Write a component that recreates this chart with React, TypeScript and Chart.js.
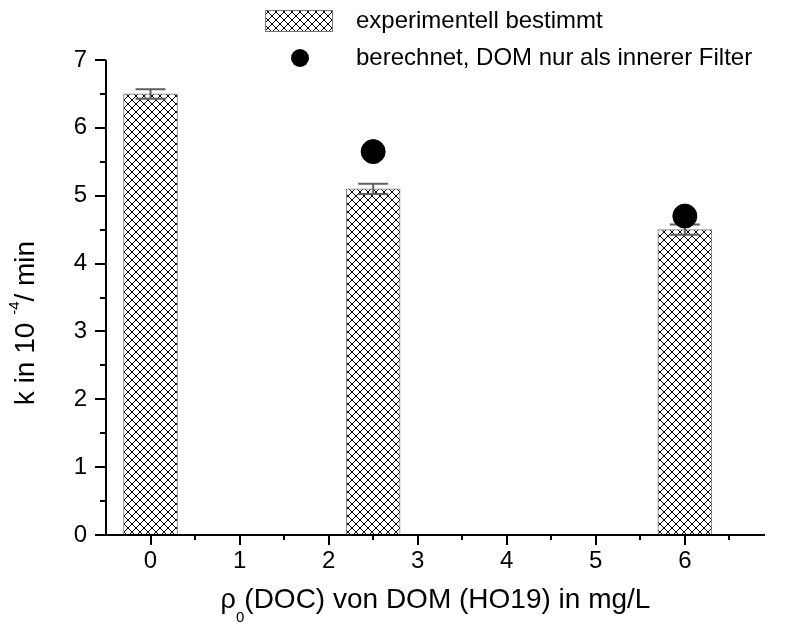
import React, { useEffect, useRef } from "react";
import { Chart, registerables } from "chart.js";

Chart.register(...registerables);

// Measured rate constants k (10^-4 / min) versus DOC concentration of DOM (mg/L)
const docConcentrations = [0, 2.5, 6];
const measuredK = [6.5, 5.1, 4.5];
const measuredKError = [0.07, 0.075, 0.075];

// Rate constants calculated assuming DOM acts only as an inner filter
const calculatedDoc = [2.5, 6];
const calculatedK = [5.65, 4.7];

// Axis ticks
const xTicks = [0, 1, 2, 3, 4, 5, 6];
const xMinorTicks = [0.5, 1.5, 2.5, 3.5, 4.5, 5.5, 6.5];
const yTicks = [0, 1, 2, 3, 4, 5, 6, 7];
const yMinorTicks = [0.5, 1.5, 2.5, 3.5, 4.5, 5.5, 6.5];

const seriesLabels = ["experimentell bestimmt", "berechnet, DOM nur als innerer Filter"];

const FONT = "Arial, 'Liberation Sans', sans-serif";

function makeHatch(ctx: CanvasRenderingContext2D): CanvasPattern | string {
  const tile = document.createElement("canvas");
  const n = 8;
  tile.width = n;
  tile.height = n;
  const g = tile.getContext("2d");
  if (!g) return "#fff";
  g.fillStyle = "#fff";
  g.fillRect(0, 0, n, n);
  g.fillStyle = "#000";
  for (let i = 0; i < n; i++) {
    g.fillRect(i, i, 1, 1);
    g.fillRect(n - 1 - i, i, 1, 1);
  }
  return ctx.createPattern(tile, "repeat") || "#fff";
}

type Part = { t: string; f: string; dy: number };

function drawParts(ctx: CanvasRenderingContext2D, parts: Part[], startX: number, baseY: number) {
  let x = startX;
  parts.forEach((p) => {
    ctx.font = p.f;
    ctx.fillText(p.t, x, baseY + p.dy);
    x += ctx.measureText(p.t).width;
  });
}

function partsWidth(ctx: CanvasRenderingContext2D, parts: Part[]) {
  let w = 0;
  parts.forEach((p) => {
    ctx.font = p.f;
    w += ctx.measureText(p.t).width;
  });
  return w;
}

export default function App() {
  const canvasRef = useRef<HTMLCanvasElement | null>(null);

  useEffect(() => {
    const canvas = canvasRef.current;
    if (!canvas) return;
    const ctx0 = canvas.getContext("2d");
    if (!ctx0) return;
    const hatch = makeHatch(ctx0);

    // Error bars drawn right after the bar dataset, below the calculated points
    const errorBars = {
      id: "errorBars",
      afterDatasetDraw(chart: any, args: any) {
        if (args.index !== 0) return;
        const { ctx } = chart;
        const xs = chart.scales.x;
        const ys = chart.scales.y;
        ctx.save();
        ctx.strokeStyle = "#5f5f5f";
        ctx.lineWidth = 2;
        docConcentrations.forEach((d, i) => {
          const x = xs.getPixelForValue(d);
          const yHi = ys.getPixelForValue(measuredK[i] + measuredKError[i]);
          const yLo = ys.getPixelForValue(measuredK[i] - measuredKError[i]);
          const cap = 15;
          ctx.beginPath();
          ctx.moveTo(x, yHi);
          ctx.lineTo(x, yLo);
          ctx.moveTo(x - cap, yHi);
          ctx.lineTo(x + cap, yHi);
          ctx.moveTo(x - cap, yLo);
          ctx.lineTo(x + cap, yLo);
          ctx.stroke();
        });
        ctx.restore();
      },
    };

    // Axis lines, major/minor tick marks, axis titles and legend
    const frame = {
      id: "frame",
      afterDraw(chart: any) {
        const { ctx, chartArea } = chart;
        const xs = chart.scales.x;
        const ys = chart.scales.y;
        const { left, right, top, bottom } = chartArea;
        ctx.save();
        ctx.strokeStyle = "#000";
        ctx.lineWidth = 2;
        ctx.lineCap = "butt";
        ctx.beginPath();
        ctx.moveTo(left, top);
        ctx.lineTo(left, bottom + 1);
        ctx.moveTo(left - 1, bottom);
        ctx.lineTo(right, bottom);
        yTicks.forEach((v) => {
          const y = Math.round(ys.getPixelForValue(v));
          ctx.moveTo(left - 11, y);
          ctx.lineTo(left, y);
        });
        yMinorTicks.forEach((v) => {
          const y = Math.round(ys.getPixelForValue(v));
          ctx.moveTo(left - 6, y);
          ctx.lineTo(left, y);
        });
        xTicks.forEach((v) => {
          const x = Math.round(xs.getPixelForValue(v));
          ctx.moveTo(x, bottom);
          ctx.lineTo(x, bottom + 10);
        });
        xMinorTicks.forEach((v) => {
          const x = Math.round(xs.getPixelForValue(v));
          ctx.moveTo(x, bottom);
          ctx.lineTo(x, bottom + 5);
        });
        ctx.stroke();

        ctx.fillStyle = "#000";
        ctx.textBaseline = "alphabetic";
        ctx.textAlign = "left";

        // x title: rho with subscript 0
        const xParts: Part[] = [
          { t: "\u03c1", f: `27px ${FONT}`, dy: 0 },
          { t: "0", f: `15px ${FONT}`, dy: 14 },
          { t: "(DOC) von DOM (HO19) in mg/L", f: `28px ${FONT}`, dy: 0 },
        ];
        const xw = partsWidth(ctx, xParts);
        drawParts(ctx, xParts, (left + right) / 2 - xw / 2, 608);

        // y title: k in 10^-4 / min
        const yParts: Part[] = [
          { t: "k in 10 ", f: `28px ${FONT}`, dy: 0 },
          { t: "-4", f: `15px ${FONT}`, dy: -15 },
          { t: "/ min", f: `28px ${FONT}`, dy: 0 },
        ];
        const yw = partsWidth(ctx, yParts);
        ctx.save();
        ctx.translate(34, 323);
        ctx.rotate(-Math.PI / 2);
        drawParts(ctx, yParts, -yw / 2, 0);
        ctx.restore();

        // legend
        const bx = 265;
        const by = 10;
        ctx.fillStyle = hatch as any;
        ctx.fillRect(bx, by, 68, 22);
        ctx.strokeStyle = "#777";
        ctx.lineWidth = 1;
        ctx.strokeRect(bx + 0.5, by + 0.5, 67, 21);
        ctx.fillStyle = "#000";
        ctx.beginPath();
        ctx.arc(300, 58, 9, 0, Math.PI * 2);
        ctx.fill();
        ctx.font = `24px ${FONT}`;
        ctx.textBaseline = "middle";
        ctx.fillText(seriesLabels[0], 356, 21);
        ctx.fillText(seriesLabels[1], 356, 58);
        ctx.restore();
      },
    };

    const chart = new Chart(canvas, {
      type: "bar",
      data: {
        datasets: [
          {
            type: "bar",
            label: seriesLabels[0],
            data: docConcentrations.map((d, i) => ({ x: d, y: measuredK[i] })),
            backgroundColor: hatch as any,
            borderColor: "#7a7a7a",
            borderWidth: 1,
            borderSkipped: false,
            barThickness: 54,
            order: 2,
          } as any,
          {
            type: "scatter",
            label: seriesLabels[1],
            data: calculatedDoc.map((d, i) => ({ x: d, y: calculatedK[i] })),
            backgroundColor: "#000",
            borderColor: "#000",
            pointRadius: 12,
            pointHoverRadius: 12,
            order: 1,
          } as any,
        ],
      },
      options: {
        animation: false,
        responsive: true,
        maintainAspectRatio: false,
        layout: { padding: { top: 60, right: 21, left: 0, bottom: 0 } },
        plugins: {
          legend: { display: false },
          tooltip: { enabled: false },
        },
        scales: {
          x: {
            type: "linear",
            min: -0.5,
            max: 6.9,
            offset: false,
            grid: { display: false, drawTicks: false },
            border: { display: false },
            ticks: {
              color: "#000",
              font: { family: FONT, size: 24 },
              padding: 12,
              maxRotation: 0,
              autoSkip: false,
              callback: (v: any) => String(v),
            },
            afterBuildTicks: (s: any) => {
              s.ticks = xTicks.map((v) => ({ value: v }));
            },
            afterFit: (s: any) => {
              s.height = 90;
            },
          },
          y: {
            type: "linear",
            min: 0,
            max: 7,
            grid: { display: false, drawTicks: false },
            border: { display: false },
            ticks: {
              color: "#000",
              font: { family: FONT, size: 24 },
              padding: 19,
              callback: (v: any) => String(v),
            },
            afterBuildTicks: (s: any) => {
              s.ticks = yTicks.map((v) => ({ value: v }));
            },
            afterFit: (s: any) => {
              s.width = 106;
            },
          },
        },
      },
      plugins: [errorBars, frame],
    });

    return () => chart.destroy();
  }, []);

  return (
    <div style={{ position: "fixed", left: 0, top: 0, width: 786, height: 625, background: "#fff" }}>
      <canvas ref={canvasRef} />
    </div>
  );
}
